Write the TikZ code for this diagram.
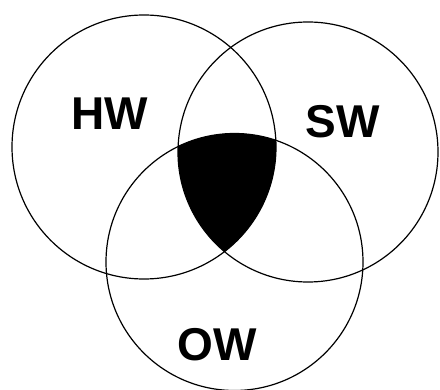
\documentclass[tikz,border=0pt]{standalone}
\usepackage{fontspec}
\setmainfont{Liberation Sans}
\begin{document}
\begin{tikzpicture}[x=1pt,y=-1pt,
  ring/.style={draw=black,line width=1.2pt},
  lbl/.style={font=\fontsize{46}{50}\selectfont\bfseries,inner sep=0pt}]
\useasboundingbox (0,0) rectangle (440,390);
\fill[white] (0,0) rectangle (440,390);
\coordinate (chw) at (144,147);
\coordinate (csw) at (308,152);
\coordinate (cow) at (234.5,262);
\begin{scope}
  \clip (chw) circle[radius=132];
  \clip (csw) circle[radius=130];
  \fill[black] (cow) circle[radius=128.5];
\end{scope}
\draw[ring] (chw) circle[radius=132];
\draw[ring] (csw) circle[radius=130];
\draw[ring] (cow) circle[radius=128.5];
\node[lbl] (hw) at (110,114) {HW};
\node[lbl] (sw) at (343,122) {SW};
\node[lbl] (ow) at (217.5,345) {OW};
\end{tikzpicture}
\end{document}
